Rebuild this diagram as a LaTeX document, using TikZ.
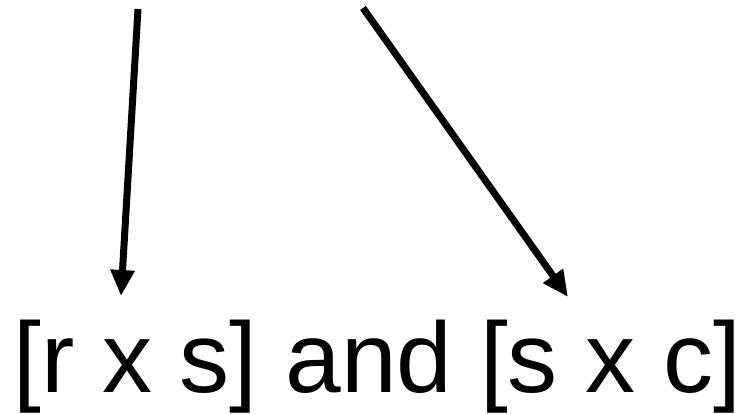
\documentclass[tikz,border=0pt]{standalone}
\usepackage{fontspec}
\setmainfont{Liberation Sans}
\usetikzlibrary{arrows.meta}
\begin{document}
\begin{tikzpicture}[x=1pt,y=-1pt,
  arr/.style={line width=7pt,-{Triangle[length=26pt,width=23pt]}},
  lbl/.style={anchor=base west,inner sep=0pt,font=\fontsize{100}{112}\selectfont}]
\useasboundingbox (0,0) rectangle (752,413);
\coordinate (s1) at (138,9);
\coordinate (t1) at (121,296);
\coordinate (s2) at (363,8);
\coordinate (t2) at (568,297);
\draw[arr] (s1) -- (t1);
\draw[arr] (s2) -- (t2);
\node[lbl] (txt) at (13,392) {[r x s] and [s x c]};
\end{tikzpicture}
\end{document}
